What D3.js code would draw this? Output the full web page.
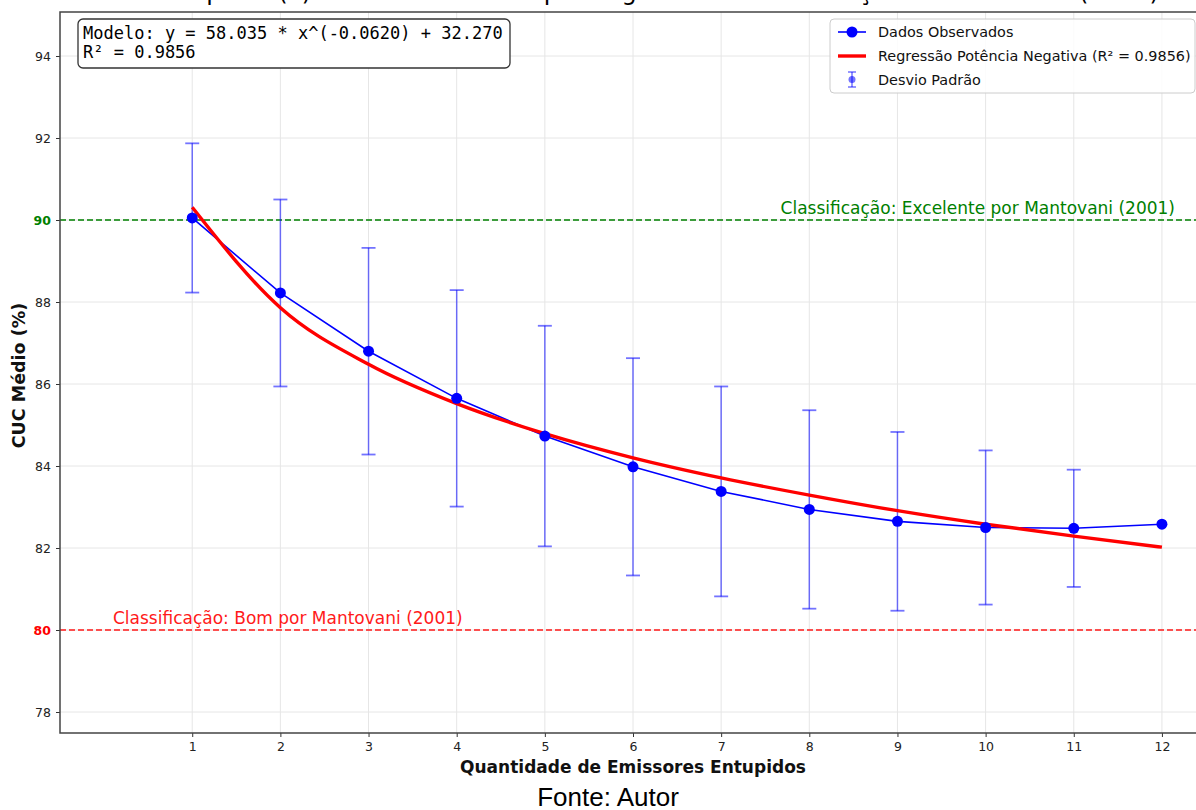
<!DOCTYPE html>
<html>
<head>
<meta charset="utf-8">
<script src="https://cdn.jsdelivr.net/npm/d3@7"></script>
<style>
  html, body { margin: 0; padding: 0; background: #fff; }
  svg { display: block; }
</style>
</head>
<body>
<svg id="chart" width="1196" height="810"></svg>
<script>
// ---- data ----
const emitters = [1, 2, 3, 4, 5, 6, 7, 8, 9, 10, 11, 12];
const cucMean = [90.05, 88.22, 86.80, 85.65, 84.73, 83.98, 83.38, 82.94, 82.65, 82.50, 82.48, 82.58];
const cucStd  = [1.82, 2.28, 2.52, 2.64, 2.69, 2.65, 2.56, 2.42, 2.18, 1.88, 1.43, 0];
const fitValues = [90.31, 87.86, 86.48, 85.52, 84.79, 84.20, 83.71, 83.29, 82.91, 82.58, 82.29, 82.02];
const yTicks = [78, 80, 82, 84, 86, 88, 90, 92, 94];
const xTicks = [1, 2, 3, 4, 5, 6, 7, 8, 9, 10, 11, 12];
const refLevels = [
  { value: 90, label: "Classificação: Excelente por Mantovani (2001)", color: "#008000" },
  { value: 80, label: "Classificação: Bom por Mantovani (2001)", color: "#ff1a1a" }
];
const modelText = ["Modelo: y = 58.035 * x^(-0.0620) + 32.270", "R² = 0.9856"];
const legendLabels = ["Dados Observados", "Regressão Potência Negativa (R² = 0.9856)", "Desvio Padrão"];
const titleText = "CUC Médio × Emissores Entupidos (x) com Curva Obtida por Regressão e Classificação de Mantovani (2001)";

// ---- layout ----
const svg = d3.select("#chart");
const pL = 60, pR = 1206, pT = 12, pB = 733;
const x = d3.scaleLinear().domain([-0.5, 12.5]).range([pL, pR]);
const y = d3.scaleLinear().domain([78 - 21/41, 78 + 700/41]).range([pB, pT]);
const blue = "#0000ff";
const font = "DejaVu Sans, sans-serif";

// title (cut off at top, only descenders visible as in the reference)
const title = svg.append("text")
  .attr("y", 0)
  .attr("font-family", font)
  .attr("font-size", 24)
  .attr("fill", "#000")
  .text(titleText);
{
  const idx = titleText.indexOf("Entupidos") + 3;
  const p = title.node().getStartPositionOfChar(idx).x;
  title.attr("x", 197 - 6 - p);
}

// grid
const g = svg.append("g");
g.selectAll(".gx").data(xTicks).join("line")
  .attr("x1", d => x(d)).attr("x2", d => x(d))
  .attr("y1", pT).attr("y2", pB)
  .attr("stroke", "#e6e6e6").attr("stroke-width", 1);
g.selectAll(".gy").data(yTicks).join("line")
  .attr("x1", pL).attr("x2", pR)
  .attr("y1", d => y(d)).attr("y2", d => y(d))
  .attr("stroke", "#e6e6e6").attr("stroke-width", 1);

// reference lines
refLevels.forEach(r => {
  g.append("line")
    .attr("x1", pL).attr("x2", pR)
    .attr("y1", y(r.value)).attr("y2", y(r.value))
    .attr("stroke", r.color).attr("stroke-width", 1.6)
    .attr("stroke-dasharray", "6,3");
});
g.append("text")
  .attr("x", 1175).attr("y", y(90) - 6)
  .attr("text-anchor", "end")
  .attr("font-family", font).attr("font-size", 17)
  .attr("fill", refLevels[0].color)
  .text(refLevels[0].label);
g.append("text")
  .attr("x", 113).attr("y", y(80) - 6)
  .attr("font-family", font).attr("font-size", 17)
  .attr("fill", refLevels[1].color)
  .text(refLevels[1].label);

// error bars
const obs = emitters.map((e, i) => ({ x: e, y: cucMean[i], s: cucStd[i] }));
const eb = g.append("g").attr("stroke", blue).attr("stroke-opacity", 0.55).attr("stroke-width", 1.5);
obs.filter(d => d.s > 0).forEach(d => {
  eb.append("line").attr("x1", x(d.x)).attr("x2", x(d.x))
    .attr("y1", y(d.y - d.s)).attr("y2", y(d.y + d.s));
  [d.y - d.s, d.y + d.s].forEach(v => {
    eb.append("line").attr("x1", x(d.x) - 7).attr("x2", x(d.x) + 7)
      .attr("y1", y(v)).attr("y2", y(v)).attr("stroke-width", 1.8);
  });
});

// observed line
g.append("path")
  .datum(obs)
  .attr("d", d3.line().x(d => x(d.x)).y(d => y(d.y)))
  .attr("fill", "none").attr("stroke", blue).attr("stroke-width", 1.6);

// regression curve
const fit = emitters.map((e, i) => ({ x: e, y: fitValues[i] }));
g.append("path")
  .datum(fit)
  .attr("d", d3.line().curve(d3.curveMonotoneX).x(d => x(d.x)).y(d => y(d.y)))
  .attr("fill", "none").attr("stroke", "#ff0000").attr("stroke-width", 3.4);

// markers
g.selectAll(".pt").data(obs).join("circle")
  .attr("cx", d => x(d.x)).attr("cy", d => y(d.y)).attr("r", 5.5)
  .attr("fill", blue);

// axes
const axG = svg.append("g");
const yAxis = axG.append("g").attr("transform", `translate(${pL},0)`)
  .call(d3.axisLeft(y).tickValues(yTicks).tickSize(4).tickPadding(5).tickFormat(d3.format("d")));
const xAxis = axG.append("g").attr("transform", `translate(0,${pB})`)
  .call(d3.axisBottom(x).tickValues(xTicks).tickSize(4).tickPadding(5).tickFormat(d3.format("d")));
[xAxis, yAxis].forEach(a => {
  a.select(".domain").remove();
  a.selectAll(".tick line").attr("stroke", "#333").attr("stroke-width", 1);
  a.selectAll(".tick text").attr("font-family", font).attr("font-size", 12.5).attr("fill", "#222");
});
yAxis.selectAll(".tick text")
  .attr("fill", d => d === 90 ? "#008000" : d === 80 ? "#ff0000" : "#222")
  .attr("font-weight", d => (d === 90 || d === 80) ? "bold" : "normal");

// spines
svg.append("path")
  .attr("d", `M${pR},${pT}H${pL}V${pB}H${pR}`)
  .attr("fill", "none").attr("stroke", "#444").attr("stroke-width", 1.5);

// axis labels
svg.append("text")
  .attr("x", (pL + pR) / 2).attr("y", 773)
  .attr("text-anchor", "middle")
  .attr("font-family", font).attr("font-size", 17).attr("font-weight", "bold")
  .attr("fill", "#111")
  .text("Quantidade de Emissores Entupidos");
svg.append("text")
  .attr("transform", `translate(25,${(pT + pB) / 2 + 3}) rotate(-90)`)
  .attr("text-anchor", "middle")
  .attr("font-family", font).attr("font-size", 17.5).attr("font-weight", "bold")
  .attr("fill", "#111")
  .text("CUC Médio (%)");

// model text box
const mb = svg.append("g");
mb.append("rect").attr("x", 78).attr("y", 19).attr("width", 432).attr("height", 49)
  .attr("rx", 5).attr("fill", "#fff").attr("stroke", "#333").attr("stroke-width", 1.3);
modelText.forEach((t, i) => {
  mb.append("text").attr("x", 83).attr("y", 39 + i * 19)
    .attr("font-family", "DejaVu Sans Mono, monospace").attr("font-size", 17)
    .attr("fill", "#000").text(t);
});

// legend
const lg = svg.append("g");
lg.append("rect").attr("x", 830).attr("y", 19).attr("width", 365).attr("height", 74)
  .attr("rx", 4).attr("fill", "#fff").attr("fill-opacity", 0.85)
  .attr("stroke", "#cccccc").attr("stroke-width", 1);
lg.append("line").attr("x1", 838).attr("x2", 866).attr("y1", 32).attr("y2", 32)
  .attr("stroke", blue).attr("stroke-width", 1.6);
lg.append("circle").attr("cx", 852).attr("cy", 32).attr("r", 5.5).attr("fill", blue);
lg.append("line").attr("x1", 838).attr("x2", 866).attr("y1", 56).attr("y2", 56)
  .attr("stroke", "#ff0000").attr("stroke-width", 3.4);
const le = lg.append("g").attr("stroke", blue).attr("stroke-opacity", 0.55).attr("stroke-width", 1.5);
le.append("line").attr("x1", 852).attr("x2", 852).attr("y1", 72).attr("y2", 87);
le.append("line").attr("x1", 848).attr("x2", 856).attr("y1", 72).attr("y2", 72);
le.append("line").attr("x1", 848).attr("x2", 856).attr("y1", 87).attr("y2", 87);
lg.append("circle").attr("cx", 852).attr("cy", 79.5).attr("r", 3.5).attr("fill", blue).attr("fill-opacity", 0.55);
legendLabels.forEach((t, i) => {
  lg.append("text").attr("x", 878).attr("y", 37 + i * 24)
    .attr("font-family", font).attr("font-size", 14.4).attr("fill", "#111").text(t);
});

// source
svg.append("text")
  .attr("x", 608).attr("y", 806)
  .attr("text-anchor", "middle")
  .attr("font-family", "Liberation Sans, Arial, sans-serif").attr("font-size", 26)
  .attr("fill", "#000")
  .text("Fonte: Autor");
</script>
</body>
</html>
